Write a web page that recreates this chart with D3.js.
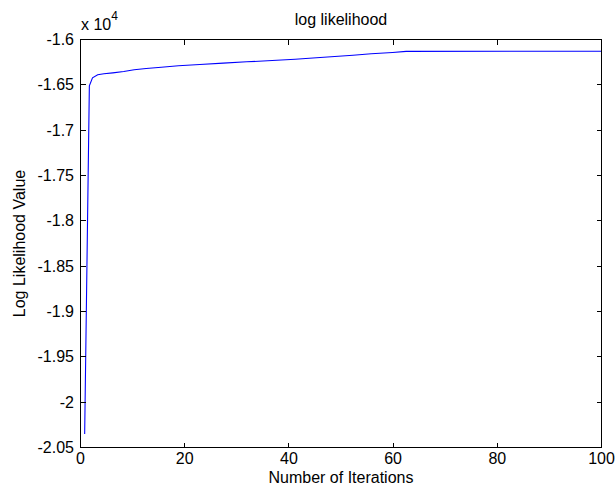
<!DOCTYPE html>
<html>
<head>
<meta charset="utf-8">
<script src="https://cdn.jsdelivr.net/npm/d3@7"></script>
<style>
  html, body { margin: 0; padding: 0; background: #fff; }
  text { font-family: "Liberation Sans", Arial, sans-serif; fill: #000; }
</style>
</head>
<body>
<div id="chart"></div>
<script>
const iterations = [0.8, 1.7, 2.3, 3.3, 4.5, 6.2, 8.3, 10.3, 12.6, 15.5, 18.8, 22.9, 27.4,
    31.9, 36.8, 41.2, 45.3, 48.8, 52.3, 55.8, 59.9, 62.5, 100];
const logLik = [-20350, -16510, -16422, -16388, -16378, -16368, -16353, -16334, -16320,
    -16306, -16290, -16276, -16261, -16246, -16232, -16217, -16202, -16188, -16173,
    -16158, -16143, -16131, -16129];
const xTicks = [0, 20, 40, 60, 80, 100];
const yTicks = [-1.6, -1.65, -1.7, -1.75, -1.8, -1.85, -1.9, -1.95, -2, -2.05];
const exponent = 4;

const width = 616, height = 494;
const box = { left: 80.5, right: 601.5, top: 39.5, bottom: 447.5 };
const tickLen = 5;
const fontSize = '16px';

const svg = d3.select('#chart').append('svg')
    .attr('width', width)
    .attr('height', height);

svg.append('rect').attr('width', width).attr('height', height).attr('fill', '#fff');

const x = d3.scaleLinear().domain([0, 100]).range([box.left, box.right]);
const y = d3.scaleLinear().domain([-2.05, -1.6]).range([box.bottom, box.top]);
const scale = Math.pow(10, exponent);

// curve
const line = d3.line()
    .x((d, i) => x(iterations[i]))
    .y(d => y(d / scale));

svg.append('path')
    .datum(logLik)
    .attr('d', line)
    .attr('fill', 'none')
    .attr('stroke', '#0000ff')
    .attr('stroke-width', 1.1);

// axes box, ticks inward on all sides
const g = svg.append('g').attr('shape-rendering', 'crispEdges');

g.append('rect')
    .attr('x', box.left).attr('y', box.top)
    .attr('width', box.right - box.left).attr('height', box.bottom - box.top)
    .attr('fill', 'none').attr('stroke', '#000');

xTicks.forEach(t => {
    g.append('line').attr('x1', x(t)).attr('x2', x(t))
        .attr('y1', box.bottom).attr('y2', box.bottom - tickLen).attr('stroke', '#000');
    g.append('line').attr('x1', x(t)).attr('x2', x(t))
        .attr('y1', box.top).attr('y2', box.top + tickLen).attr('stroke', '#000');
});
yTicks.forEach(t => {
    g.append('line').attr('x1', box.left).attr('x2', box.left + tickLen)
        .attr('y1', y(t)).attr('y2', y(t)).attr('stroke', '#000');
    g.append('line').attr('x1', box.right).attr('x2', box.right - tickLen)
        .attr('y1', y(t)).attr('y2', y(t)).attr('stroke', '#000');
});

// tick labels
svg.append('g').selectAll('text')
    .data(xTicks).enter()
    .append('text')
    .attr('x', d => x(d))
    .attr('y', 464)
    .attr('text-anchor', 'middle')
    .style('font-size', fontSize)
    .text(d => d);

svg.append('g').selectAll('text')
    .data(yTicks).enter()
    .append('text')
    .attr('x', 74)
    .attr('y', d => y(d) + 5.5)
    .attr('text-anchor', 'end')
    .style('font-size', fontSize)
    .text(d => d3.format('')(d).replace('−', '-'));

// exponent label
const expLabel = svg.append('text')
    .attr('x', 81)
    .attr('y', 30)
    .style('font-size', fontSize);
expLabel.append('tspan').text('x 10');
expLabel.append('tspan').attr('dy', -10).style('font-size', '12px').text(exponent);

// title and axis labels
svg.append('text')
    .attr('x', (box.left + box.right) / 2)
    .attr('y', 25)
    .attr('text-anchor', 'middle')
    .style('font-size', fontSize)
    .text('log likelihood');

svg.append('text')
    .attr('x', (box.left + box.right) / 2)
    .attr('y', 483)
    .attr('text-anchor', 'middle')
    .style('font-size', fontSize)
    .text('Number of Iterations');

svg.append('text')
    .attr('transform', `translate(25, ${(box.top + box.bottom) / 2}) rotate(-90)`)
    .attr('text-anchor', 'middle')
    .style('font-size', fontSize)
    .text('Log Likelihood Value');
</script>
</body>
</html>
